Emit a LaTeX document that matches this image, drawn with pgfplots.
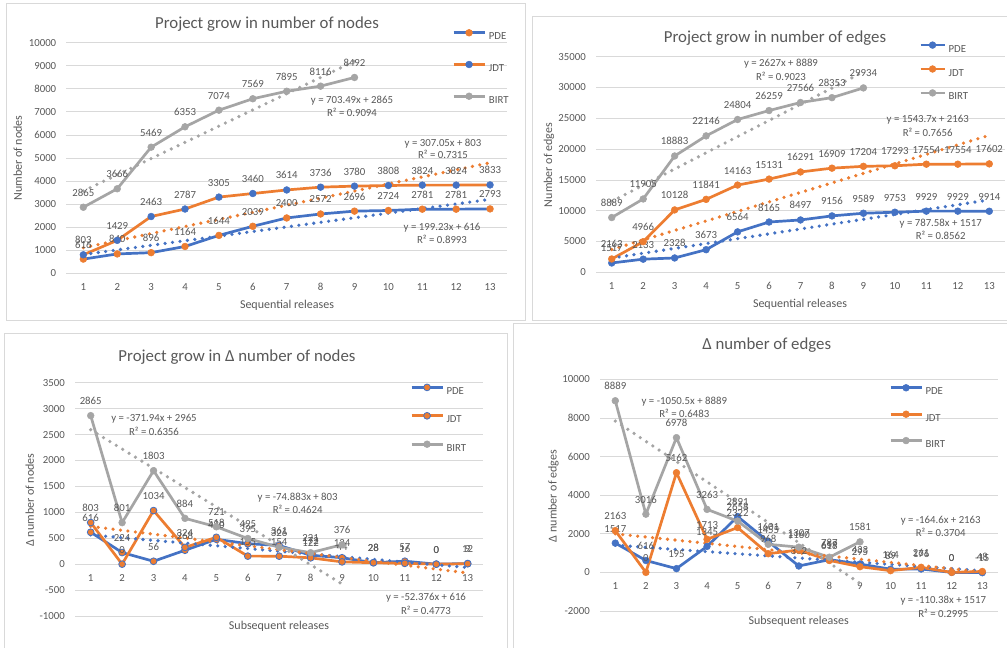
\documentclass[border=0pt]{standalone}
\usepackage{pgfplots}
\pgfplotsset{compat=1.18}
\usepackage{fontspec}
\setmainfont{Carlito}
\definecolor{cblue}{HTML}{4472C4}
\definecolor{corange}{HTML}{ED7D31}
\definecolor{cgray}{HTML}{A5A5A5}
\definecolor{ctext}{HTML}{595959}
\definecolor{cgrid}{HTML}{D9D9D9}
\newcommand{\fs}{\fontsize{10.8}{12}\selectfont}
\pgfplotsset{
 excel/.style={
  scale only axis, clip=false,
  xmin=0.5, xmax=13.5, xtick={1,...,13},
  axis line style={draw=none}, tick style={draw=none},
  ymajorgrids, grid style={cgrid, line width=0.8pt},
  tick label style={font=\fs, text=ctext},
  scaled y ticks=false,
  /pgf/number format/assume math mode=true,
  /pgf/number format/fixed,
  /pgf/number format/1000 sep={},
  yticklabel style={anchor=east, inner sep=0pt, xshift=-10pt},
  legend style={draw=none, fill=none, inner sep=0pt, font=\fs, text=ctext,
    nodes={inner sep=0pt, text height=7pt, text depth=0pt},
    anchor=north west, column sep=3pt},
  legend cell align=left,
  legend image code/.code={\draw[mark repeat=2, mark phase=2] plot coordinates {(0pt,3.5pt)(15.5pt,3.5pt)(31pt,3.5pt)};},
 },
 ser/.style={line width=2.7pt, line join=round, mark=*, mark size=3.4pt,
   nodes near coords, nodes near coords align={anchor=base},
   every node near coord/.style={font=\fs, text=ctext, anchor=base, inner sep=0pt, yshift=11pt}},
 trend/.style={line width=3.6pt, dash pattern=on 0pt off 7.5pt, line cap=round, mark=none, forget plot},
}
\begin{document}
\begin{tikzpicture}
\useasboundingbox (0,0) rectangle (1007pt,-648pt);
\begin{scope}[x=1pt,y=-1pt]
 \fill[white] (0,0) rectangle (1007,648);
 \draw[cgrid, line width=0.8pt] (6,3) rectangle (525,320);
 \draw[cgrid, line width=0.8pt] (532,16) rectangle (1012,320);
 \draw[cgrid, line width=0.8pt] (4,333) rectangle (507,655);
 \draw[cgrid, line width=0.8pt] (513,323) rectangle (1012,655);
 \tikzset{ttl/.style={font=\fontsize{16.8}{18}\selectfont, text=ctext, text height=10.8pt, text depth=0pt, inner sep=0pt},
   lab/.style={font=\fontsize{12}{14}\selectfont, text=ctext, text height=7.7pt, text depth=0pt, inner sep=0pt}}
 \node[ttl] at (267,23) {Project grow in number of nodes};
 \node[ttl] at (775,36.7) {Project grow in number of edges};
 \node[ttl] at (237,356) {Project grow in Δ number of nodes};
 \node[ttl] at (766.7,344.3) {Δ number of edges};
 \node[lab, rotate=90] at (18,158) {Number of nodes};
 \node[lab, rotate=90] at (548.3,165) {Number of edges};
 \node[lab, rotate=90] at (30,500) {Δ number of nodes};
 \node[lab, rotate=90] at (552.7,496) {Δ number of edges};
 \node[lab] at (287,305) {Sequential releases};
 \node[lab] at (800,304) {Sequential releases};
 \node[lab] at (279,626) {Subsequent releases};
 \node[lab] at (798.7,621) {Subsequent releases};
\end{scope}

% ---------------- top left
\begin{axis}[excel, at={(66.4pt,-273.3pt)}, anchor=south west, width=440.6pt, height=230.6pt,
  ymin=0, ymax=10000, ytick={0,1000,...,10000},
  xticklabel style={anchor=center, inner sep=0pt, yshift=-14pt},
  legend style={at={(0.8752,1.0585)}, row sep=21.3pt}]
\addplot[ser, cblue, mark options={fill=corange, draw=corange, line width=0.5pt}] coordinates {
(1,616)(2,840)(3,896)(4,1164)(5,1644)(6,2039)(7,2400)(8,2572)(9,2696)(10,2724)(11,2781)(12,2781)(13,2793)};
\addplot[ser, corange, mark options={fill=cblue, draw=cblue, line width=0.5pt}] coordinates {
(1,803)(2,1429)(3,2463)(4,2787)(5,3305)(6,3460)(7,3614)(8,3736)(9,3780)(10,3808)(11,3824)(12,3824)(13,3833)};
\addplot[ser, cgray, mark options={fill=cgray, draw=cgray, line width=0.5pt}] coordinates {
(1,2865)(2,3666)(3,5469)(4,6353)(5,7074)(6,7569)(7,7895)(8,8116)(9,8492)};
\addplot[trend, cblue] coordinates {(1,815.23)(13,3205.99)};
\addplot[trend, corange] coordinates {(1,1110.05)(13,4794.65)};
\addplot[trend, cgray] coordinates {(1,3568.49)(9,9196.41)};
\legend{PDE,JDT,BIRT}
\end{axis}

% ---------------- top right
\begin{axis}[excel, at={(596pt,-272.3pt)}, anchor=south west, width=409pt, height=215.6pt,
  ymin=0, ymax=35000, ytick={0,5000,...,35000},
  xticklabel style={anchor=center, inner sep=0pt, yshift=-14pt},
  legend style={at={(0.7897,1.0705)}, row sep=13.5pt, column sep=2.7pt},
  legend image code/.code={\draw[mark repeat=2, mark phase=2] plot coordinates {(0pt,3.5pt)(12pt,3.5pt)(24pt,3.5pt)};}]
\addplot[ser, cblue, mark options={fill=cblue, draw=cblue, line width=0.5pt}] coordinates {
(1,1517)(2,2133)(3,2328)(4,3673)(5,6564)(6,8165)(7,8497)(8,9156)(9,9589)(10,9753)(11,9929)(12,9929)(13,9914)};
\addplot[ser, corange, mark options={fill=corange, draw=corange, line width=0.5pt}] coordinates {
(1,2163)(2,4966)(3,10128)(4,11841)(5,14163)(6,15131)(7,16291)(8,16909)(9,17204)(10,17293)(11,17554)(12,17554)(13,17602)};
\addplot[ser, cgray, mark options={fill=cgray, draw=cgray, line width=0.5pt}] coordinates {
(1,8889)(2,11905)(3,18883)(4,22146)(5,24804)(6,26259)(7,27566)(8,28353)(9,29934)};
\addplot[trend, cblue] coordinates {(1,2304.58)(13,11755.54)};
\addplot[trend, corange] coordinates {(1,3706.7)(13,22231.1)};
\addplot[trend, cgray] coordinates {(1,11516)(9,32532)};
\legend{PDE,JDT,BIRT}
\end{axis}

% ---------------- bottom left
\begin{axis}[excel, at={(75pt,-616pt)}, anchor=south west, width=408.4pt, height=233.3pt,
  ymin=-1000, ymax=3500, ytick={-1000,-500,...,3500},
  xticklabel style={anchor=center, inner sep=0pt, yshift=38pt},
  legend style={at={(0.8203,0.9953)}, row sep=18pt, column sep=2.6pt}]
\addplot[ser, cblue, mark options={fill=corange, draw=cblue, line width=0.8pt}] coordinates {
(1,616)(2,224)(3,56)(4,268)(5,480)(6,395)(7,361)(8,172)(9,124)(10,28)(11,57)(12,0)(13,12)};
\addplot[ser, corange, mark options={fill=corange, draw=cblue, line width=0.8pt}] coordinates {
(1,803)(2,0)(3,1034)(4,324)(5,518)(6,155)(7,154)(8,122)(9,44)(10,28)(11,16)(12,0)(13,9)};
\addplot[ser, cgray, mark options={fill=cgray, draw=cgray, line width=0.5pt}] coordinates {
(1,2865)(2,801)(3,1803)(4,884)(5,721)(6,495)(7,326)(8,221)(9,376)};
\addplot[trend, cblue] coordinates {(1,563.624)(13,-64.888)};
\addplot[trend, corange] coordinates {(1,728.117)(13,-170.479)};
\addplot[trend, cgray] coordinates {(1,2593.06)(9,-382.46)};
\legend{PDE,JDT,BIRT}
\end{axis}

% ---------------- bottom right
\begin{axis}[excel, at={(600pt,-611pt)}, anchor=south west, width=397.6pt, height=231.7pt,
  ymin=-2000, ymax=10000, ytick={-2000,0,...,10000},
  xticklabel style={anchor=center, inner sep=0pt, yshift=25pt},
  legend style={at={(0.7269,0.9789)}, row sep=16pt, column sep=2.6pt}]
\addplot[ser, cblue, mark options={fill=cblue, draw=cblue, line width=0.5pt}] coordinates {
(1,1517)(2,616)(3,195)(4,1345)(5,2891)(6,1601)(7,332)(8,659)(9,433)(10,164)(11,176)(12,0)(13,-15)};
\addplot[ser, corange, mark options={fill=corange, draw=corange, line width=0.5pt}] coordinates {
(1,2163)(2,0)(3,5162)(4,1713)(5,2322)(6,968)(7,1160)(8,618)(9,295)(10,89)(11,261)(12,0)(13,48)};
\addplot[ser, cgray, mark options={fill=cgray, draw=cgray, line width=0.5pt}] coordinates {
(1,8889)(2,3016)(3,6978)(4,3263)(5,2658)(6,1455)(7,1307)(8,787)(9,1581)};
\addplot[trend, cblue] coordinates {(1,1406.62)(13,82.06)};
\addplot[trend, corange] coordinates {(1,1998.4)(13,23.2)};
\addplot[trend, cgray] coordinates {(1,7838.5)(9,-565.5)};
\legend{PDE,JDT,BIRT}
\end{axis}

% trendline equations
\begin{scope}[x=1pt,y=-1pt]
 \tikzset{eq/.style={font=\fs, text=ctext, text height=7pt, text depth=0pt, inner sep=0pt}}
 \node[eq] at (352,100) {y = 703.49x + 2865};
 \node[eq] at (352,113) {R² = 0.9094};
 \node[eq] at (443,143) {y = 307.05x + 803};
 \node[eq] at (443,155.3) {R² = 0.7315};
 \node[eq] at (442,227) {y = 199.23x + 616};
 \node[eq] at (442,240) {R² = 0.8993};
 \node[eq] at (781,63.3) {y = 2627x + 8889};
 \node[eq] at (781,77.3) {R² = 0.9023};
 \node[eq] at (927.7,119) {y = 1543.7x + 2163};
 \node[eq] at (927.7,132.7) {R² = 0.7656};
 \node[eq] at (940.7,222.7) {y = 787.58x + 1517};
 \node[eq] at (940.7,236) {R² = 0.8562};
 \node[eq] at (154,418.3) {y = -371.94x + 2965};
 \node[eq] at (154,431.7) {R² = 0.6356};
 \node[eq] at (297.7,496.7) {y = -74.883x + 803};
 \node[eq] at (297.7,510) {R² = 0.4624};
 \node[eq] at (426,597.3) {y = -52.376x + 616};
 \node[eq] at (426,610.7) {R² = 0.4773};
 \node[eq] at (684.3,400.7) {y = -1050.5x + 8889};
 \node[eq] at (684.3,414) {R² = 0.6483};
 \node[eq] at (940.7,520) {y = -164.6x + 2163};
 \node[eq] at (940.7,533.3) {R² = 0.3704};
 \node[eq] at (943.3,600.3) {y = -110.38x + 1517};
 \node[eq] at (943.3,613.7) {R² = 0.2995};
\end{scope}
\end{tikzpicture}
\end{document}
